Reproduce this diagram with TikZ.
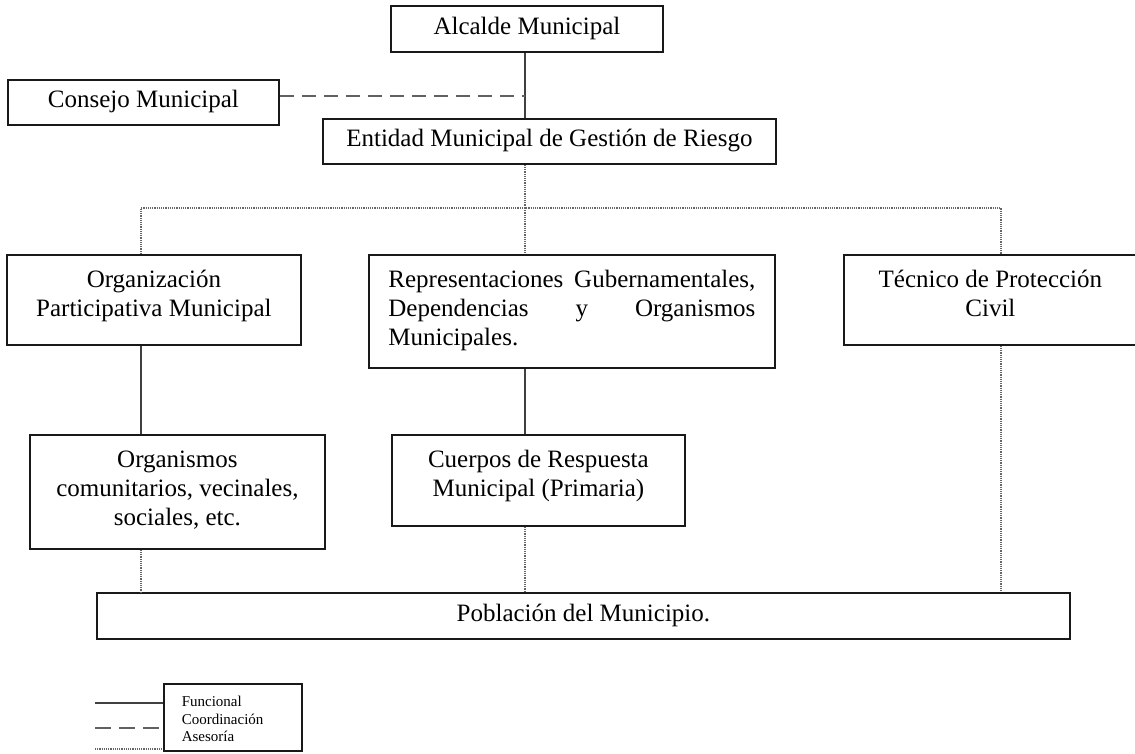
\documentclass[tikz,border=0pt]{standalone}
\usepackage{fontspec}
\setmainfont{Liberation Serif}
\newcommand{\bxtext}[3]{\parbox[c][#2][t]{#1}{\centering\rule{0pt}{33pt}#3}}
\tikzset{
  box/.style={draw=black!90, line width=1.8pt, inner sep=0pt, anchor=north west, font=\fontsize{25}{29}\selectfont},
  onebox/.style={box, text height=17pt, text depth=6pt},
  solidln/.style={draw=black!75, line width=2pt},
  dashln/.style={draw=black!62, line width=2.8pt, dash pattern=on 14pt off 8pt},
  dotln/.style={draw=black!60, line width=2.2pt, dash pattern=on 1.2pt off 1pt}
}
\begin{document}
\begin{tikzpicture}[x=1pt, y=-1pt]
\path[fill=white, use as bounding box] (0,0) rectangle (1135,753);

% boxes
\node[onebox, minimum width=272pt, minimum height=46pt] (alc) at (390,5) {Alcalde Municipal};
\node[onebox, minimum width=271pt, minimum height=45pt] (con) at (7,79) {Consejo Municipal};
\node[onebox, minimum width=453pt, minimum height=45pt] (ent) at (322,118) {Entidad Municipal de Gestión de Riesgo};
\node[box] (org) at (6,254) {\bxtext{294pt}{90pt}{Organización\\Participativa Municipal}};
\node[box] (rep) at (368,254) {\bxtext{406pt}{113pt}{%
  \makebox[367pt][s]{Representaciones Gubernamentales,}\\
  \makebox[367pt][s]{Dependencias y Organismos}\\
  \makebox[367pt][l]{Municipales.}}};
\node[box] (tec) at (843,254) {\bxtext{293pt}{90pt}{Técnico de Protección\\Civil}};
\node[box] (orgs) at (29,434) {\bxtext{295pt}{114pt}{Organismos\\comunitarios, vecinales,\\sociales, etc.}};
\node[box] (cue) at (391,434) {\bxtext{293pt}{91pt}{Cuerpos de Respuesta\\Municipal (Primaria)}};
\node[onebox, minimum width=973pt, minimum height=46pt] (pob) at (96,592) {Población del Municipio.};

% legend
\node[box, line width=1.6pt, font=\fontsize{15}{17.5}\selectfont] (leg) at (163,683)
  {\parbox[c][67pt][t]{138pt}{\raggedright\leftskip=18pt\rule{0pt}{23pt}Funcional\\Coordinación\\Asesoría}};

% helper coordinates
\coordinate (dj) at (525,96);
\coordinate (dtop) at (525,208);
\coordinate (xl) at (141,208);
\coordinate (xr) at (1001,208);

% connectors
\draw[solidln] (alc.south -| dj) -- (ent.north -| dj);
\draw[dashln] (con.east |- dj) -- (dj);
\draw[dotln] (ent.south -| dtop) -- (dtop);
\draw[dotln] (org.north -| xl) -- (xl) -- (xr) -- (tec.north -| xr);
\draw[dotln] (dtop) -- (rep.north -| dtop);
\draw[solidln] (org.south -| xl) -- (orgs.north -| xl);
\draw[solidln] (rep.south -| dtop) -- (cue.north -| dtop);
\draw[dotln] (orgs.south -| xl) -- (pob.north -| xl);
\draw[dotln] (cue.south -| dtop) -- (pob.north -| dtop);
\draw[dotln] (tec.south -| xr) -- (pob.north -| xr);

% legend lines
\coordinate (lg1) at (95,703);
\coordinate (lg2) at (95,728);
\coordinate (lg3) at (95,749);
\draw[solidln] (lg1) -- (lg1 -| leg.west);
\draw[dashln, dash pattern=on 16pt off 8pt] (lg2) -- (lg2 -| leg.west);
\draw[dotln] (lg3) -- (lg3 -| leg.west);
\end{tikzpicture}
\end{document}
